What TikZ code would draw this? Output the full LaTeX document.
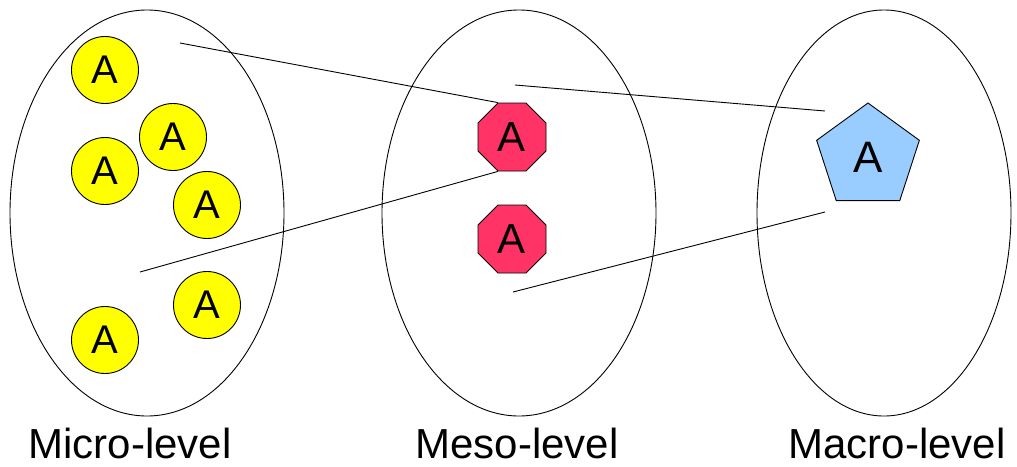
\documentclass[tikz,border=0pt]{standalone}
\usepackage{fontspec}
\setmainfont{Liberation Sans}
\usetikzlibrary{shapes.geometric}
\definecolor{microfill}{HTML}{FFFF00}
\definecolor{mesofill}{HTML}{FF3366}
\definecolor{macrofill}{HTML}{99CCFF}
\tikzset{
  level/.style={draw,ellipse,line width=0.9pt,minimum width=274,minimum height=406,inner sep=0},
  atom/.style={draw,circle,fill=microfill,line width=0.9pt,minimum size=67,inner sep=0,font=\fontsize{40}{42}\selectfont},
  group/.style={draw,regular polygon,regular polygon sides=8,fill=mesofill,line width=0.9pt,minimum size=73.6,inner sep=0,font=\fontsize{42}{44}\selectfont},
  whole/.style={draw,regular polygon,regular polygon sides=5,fill=macrofill,line width=0.9pt,minimum size=108,inner sep=0,font=\fontsize{44}{46}\selectfont},
  caption/.style={anchor=base,inner sep=0,font=\fontsize{42}{44}\selectfont}
}
\begin{document}
\begin{tikzpicture}[x=1pt,y=-1pt]
      \useasboundingbox (0,0) rectangle (1017,466);
      \node[level] (micro) at (147,213) {};
      \node[level] (meso) at (519,213) {};
      \node[level,minimum width=254] (macro) at (884,213) {};
      \draw
        (105,70) node[atom] (a1){A}
        (173,137) node[atom] (a2){A}
        (105,171) node[atom] (a3){A}
        (207,205) node[atom] (a4){A}
        (207,305) node[atom] (a5){A}
        (105,340) node[atom] (a6){A};
      \draw
        (512,137) node[group] (m1){A}
        (512,239) node[group] (m2){A};
      \node[whole] (p) at (868,157) {\raisebox{-9pt}{A}};
      \coordinate (microtop) at (180,43);
      \coordinate (microbot) at (140,272);
      \coordinate (mesotop) at (515,85);
      \coordinate (mesobot) at (513,292);
      \coordinate (macrotop) at (825,111);
      \coordinate (macrobot) at (825,212);
      \begin{scope}[-,line width=0.9pt]
        \draw (microtop) to (m1.corner 2);
        \draw (microbot) to (m1.corner 5);
        \draw (mesotop) to (macrotop);
        \draw (mesobot) to (macrobot);
      \end{scope}
      \node[caption] (microlabel) at (130,458) {Micro-level};
      \node[caption] (mesolabel) at (517,458) {Meso-level};
      \node[caption] (macrolabel) at (897,458) {Macro-level};
    \end{tikzpicture}
\end{document}
